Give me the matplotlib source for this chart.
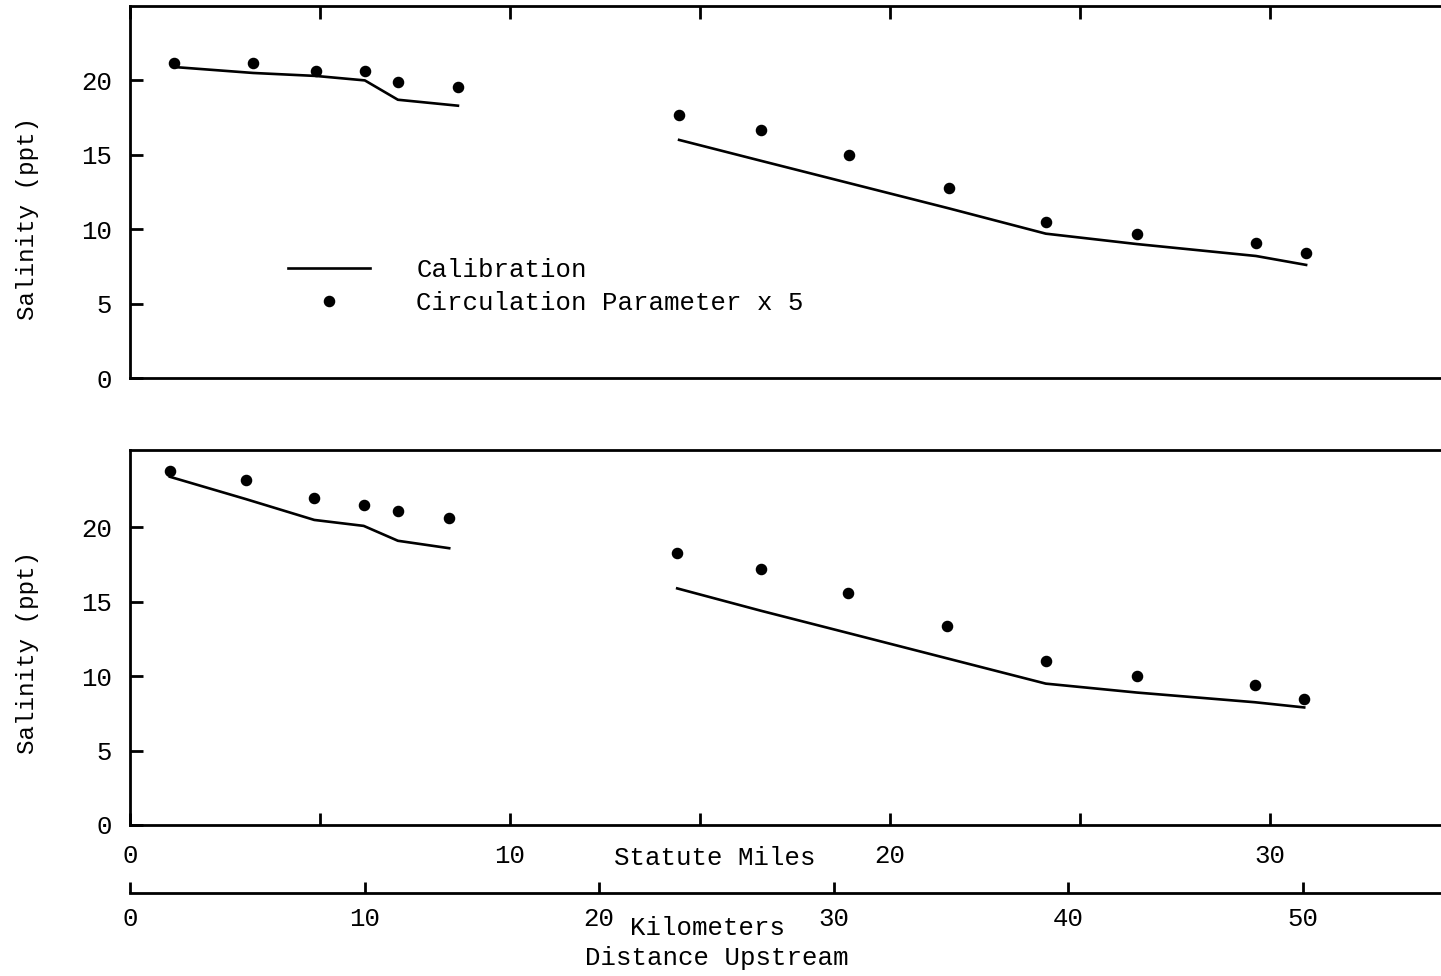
import matplotlib.pyplot as plt

plt.rcParams['font.family'] = ['Liberation Mono', 'DejaVu Sans Mono']

# distance upstream (statute miles) and salinity (ppt)
top_miles = [1.16, 3.24, 4.89, 6.18, 7.05, 8.63]
top_miles2 = [14.45, 16.6, 18.92, 21.55, 24.1, 26.5, 29.63, 30.95]
top_calib = [20.9, 20.5, 20.3, 20.0, 18.7, 18.3]
top_calib2 = [16.0, 14.6, 13.1, 11.4, 9.7, 9.0, 8.2, 7.6]
top_circ = [21.15, 21.2, 20.65, 20.6, 19.9, 19.55]
top_circ2 = [17.7, 16.7, 15.0, 12.75, 10.5, 9.7, 9.05, 8.4]

bot_miles = [1.05, 3.05, 4.85, 6.15, 7.05, 8.4]
bot_miles2 = [14.4, 16.6, 18.9, 21.5, 24.1, 26.5, 29.6, 30.9]
bot_calib = [23.4, 21.9, 20.5, 20.1, 19.1, 18.6]
bot_calib2 = [15.9, 14.4, 12.9, 11.2, 9.5, 8.9, 8.25, 7.9]
bot_circ = [23.8, 23.2, 22.0, 21.5, 21.1, 20.6]
bot_circ2 = [18.3, 17.2, 15.6, 13.4, 11.0, 10.0, 9.4, 8.5]

mile_ticks = [0, 5, 10, 15, 20, 25, 30]
mile_labels = ['0', '', '10', '', '20', '', '30']
km_ticks = [0, 10, 20, 30, 40, 50]
km_per_mile = 1.62  # scale as drawn on the original
xmax = 34.5

W, H = 1441, 976
fig = plt.figure(figsize=(W / 100, H / 100), dpi=100)
fs = 18.5

ax1 = fig.add_axes([130 / W, 1 - 378 / H, 1 - 130 / W, (378 - 6) / H])
ax2 = fig.add_axes([130 / W, 1 - 825 / H, 1 - 130 / W, (825 - 450) / H])

for ax, xs, xs2, cal, cal2, circ, circ2, ytop in [
        (ax1, top_miles, top_miles2, top_calib, top_calib2, top_circ, top_circ2, 25.0),
        (ax2, bot_miles, bot_miles2, bot_calib, bot_calib2, bot_circ, bot_circ2, 25.2)]:
    ln, = ax.plot(xs, cal, color='black', lw=1.9)
    ax.plot(xs2, cal2, color='black', lw=1.9)
    dots, = ax.plot(xs, circ, 'o', color='black', ms=7.3)
    ax.plot(xs2, circ2, 'o', color='black', ms=7.3)
    ax.set_xlim(0, xmax)
    ax.set_ylim(0, ytop)
    ax.set_yticks([0, 5, 10, 15, 20])
    ax.tick_params(axis='y', direction='in', length=9, width=2, pad=13, labelsize=fs)
    ax.spines['right'].set_visible(False)
    for s in ['left', 'top', 'bottom']:
        ax.spines[s].set_linewidth(2)
    ax.set_xticks(mile_ticks)
    if ax is ax1:
        handles = [ln, dots]

ax1.tick_params(axis='x', direction='in', bottom=False, top=True, labelbottom=False,
                length=9, width=2)
ax2.tick_params(axis='x', direction='in', bottom=True, top=False, length=9, width=2,
                pad=14, labelsize=fs)
ax2.set_xticklabels(mile_labels)

ax1.legend(handles, ['Calibration', 'Circulation Parameter x 5'],
           loc='center left', bbox_to_anchor=(0.1205, 0.247), frameon=False,
           fontsize=fs, borderpad=0, borderaxespad=0, handlelength=3.2,
           handletextpad=1.8, labelspacing=0.35)

# kilometre scale below the miles axis
ax3 = fig.add_axes([130 / W, 1 - 893 / H, 1 - 130 / W, 0.0001])
ax3.set_facecolor('none')
for s in ['left', 'top', 'right']:
    ax3.spines[s].set_visible(False)
ax3.spines['bottom'].set_linewidth(2)
ax3.set_xlim(0, xmax * km_per_mile)
ax3.set_yticks([])
ax3.set_xticks(km_ticks)
ax3.tick_params(axis='x', direction='in', length=8, width=2, pad=10, labelsize=fs)

fig.text(715 / W, 1 - 858 / H, 'Statute Miles', ha='center', va='center', fontsize=fs)
fig.text(707 / W, 1 - 928 / H, 'Kilometers', ha='center', va='center', fontsize=fs)
fig.text(717 / W, 1 - 958 / H, 'Distance Upstream', ha='center', va='center', fontsize=fs)
fig.text(28 / W, 1 - 218 / H, 'Salinity (ppt)', rotation=90, ha='center', va='center', fontsize=17.5)
fig.text(28 / W, 1 - 652 / H, 'Salinity (ppt)', rotation=90, ha='center', va='center', fontsize=17.5)

fig.savefig('out.png', dpi=100)
